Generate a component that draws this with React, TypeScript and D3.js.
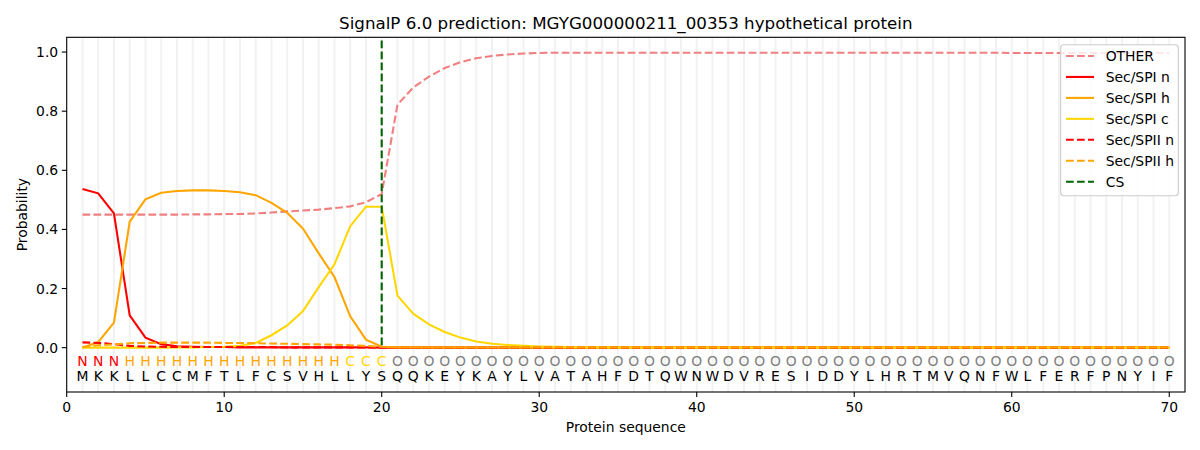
import { useEffect } from "react"
import * as d3 from "d3"

// sequence and per-residue region labels
const sequence = "MKKLLCCMFTLFCSVHLLYSQQKEYKAYLVATAHFDTQWNWDVRESIDDYLHRTMVQNFWLFERFPNYIF".split("")
const regions = ("NNN" + "H".repeat(14) + "CCC" + "O".repeat(50)).split("")

const pad = (vals: number[], fill: number) => vals.concat(new Array(70 - vals.length).fill(fill))

const other = pad(
  [
    0.45, 0.45, 0.45, 0.45, 0.45, 0.45, 0.45, 0.451, 0.451, 0.452,
    0.452, 0.454, 0.457, 0.461, 0.464, 0.467, 0.472, 0.478, 0.492, 0.52,
    0.822, 0.88, 0.917, 0.946, 0.966, 0.979, 0.987, 0.992, 0.995, 0.997,
    0.998, 0.998, 0.998, 0.998, 0.998, 0.998, 0.998, 0.998, 0.998, 0.998,
    0.998, 0.998, 0.998, 0.998, 0.998, 0.998, 0.998, 0.998, 0.998, 0.998,
    0.998, 0.998, 0.998, 0.998, 0.998, 0.998, 0.998, 0.998, 0.998, 0.997,
  ],
  0.997
)
const spiN = pad(
  [
    0.537, 0.522, 0.454, 0.109, 0.034, 0.012, 0.005, 0.003, 0.002, 0.002,
    0.001, 0.001, 0.001, 0.001, 0.001, 0.001, 0.001, 0.001, 0.001, 0.0,
  ],
  0
)
const spiH = pad(
  [
    0.0, 0.019, 0.085, 0.426, 0.502, 0.524, 0.53, 0.532, 0.532, 0.53,
    0.526, 0.516, 0.49, 0.456, 0.403, 0.319, 0.239, 0.106, 0.027, 0.003,
    0.001, 0.001,
  ],
  0
)
const spiC = pad(
  [
    0.0, 0.0, 0.0, 0.0, 0.0, 0.0, 0.001, 0.001, 0.002, 0.003,
    0.006, 0.016, 0.042, 0.075, 0.124, 0.205, 0.282, 0.411, 0.477, 0.477,
    0.176, 0.115, 0.079, 0.053, 0.034, 0.021, 0.013, 0.009, 0.006, 0.004,
    0.003, 0.002, 0.001, 0.001,
  ],
  0
)
const spiiN = pad(
  [
    0.018, 0.016, 0.012, 0.006, 0.004, 0.003, 0.002, 0.002, 0.002, 0.002,
    0.002, 0.002, 0.002, 0.001, 0.001, 0.001, 0.001, 0.001, 0.001, 0.001,
  ],
  0
)
const spiiH = pad(
  [
    0.002, 0.008, 0.011, 0.015, 0.016, 0.017, 0.017, 0.017, 0.017, 0.016,
    0.016, 0.015, 0.014, 0.013, 0.012, 0.011, 0.01, 0.008, 0.006, 0.003,
  ],
  0.001
)
const cleavageSite = 20

const xTicks = [0, 10, 20, 30, 40, 50, 60, 70]
const yTicks = [0, 0.2, 0.4, 0.6, 0.8, 1.0]

const series = [
  { name: "OTHER", values: other, color: "#f08080", dashed: true },
  { name: "Sec/SPI n", values: spiN, color: "#ff0000", dashed: false },
  { name: "Sec/SPI h", values: spiH, color: "#ffa500", dashed: false },
  { name: "Sec/SPI c", values: spiC, color: "#ffd700", dashed: false },
  { name: "Sec/SPII n", values: spiiN, color: "#ff0000", dashed: true },
  { name: "Sec/SPII h", values: spiiH, color: "#ffa500", dashed: true },
]

const regionColor: Record<string, string> = { N: "#ff0000", H: "#ffa500", C: "#ffd700", O: "#808080" }

export default function App() {
  useEffect(() => {
    document.body.style.margin = "0"
  }, [])

  const left = 66.7
  const right = 1185
  const top = 37.3
  const bottom = 392
  const font = "DejaVu Sans, sans-serif"
  const dash = "7.7,3.3"

  const x = d3.scaleLinear().domain([0, 71]).range([left, right])
  const y = d3.scaleLinear().domain([-0.15, 1.05]).range([bottom, top])

  const line = d3
    .line<number>()
    .x((_, i) => x(i + 1))
    .y((d) => y(d))

  const legendItems = [
    ...series.map((s) => ({ name: s.name, color: s.color, dashed: s.dashed })),
    { name: "CS", color: "#006400", dashed: true },
  ]

  return (
    <svg width={1200} height={450} style={{ display: "block", fontFamily: font }}>
      <rect width={1200} height={450} fill="#fff" />

      {/* residue grid */}
      {sequence.map((_, i) => (
        <line key={i} x1={x(i + 1)} x2={x(i + 1)} y1={top} y2={bottom} stroke="#f2f2f2" strokeWidth={2} />
      ))}

      {series.map((s) => (
        <path
          key={s.name}
          d={line(s.values) ?? ""}
          fill="none"
          stroke={s.color}
          strokeWidth={2.08}
          strokeDasharray={s.dashed ? dash : undefined}
        />
      ))}

      {/* cleavage site, drawn from the top so the dash phase matches */}
      <line
        x1={x(cleavageSite)}
        x2={x(cleavageSite)}
        y1={y(1.05)}
        y2={y(0)}
        stroke="#006400"
        strokeWidth={2.08}
        strokeDasharray={dash}
        strokeDashoffset={7.7}
      />

      {/* residue letters */}
      {regions.map((r, i) => (
        <text key={"r" + i} x={x(i + 1)} y={y(-0.046)} dy="0.36em" textAnchor="middle" fontSize={13.9} fill={regionColor[r]}>
          {r}
        </text>
      ))}
      {sequence.map((aa, i) => (
        <text key={"s" + i} x={x(i + 1)} y={y(-0.097)} dy="0.36em" textAnchor="middle" fontSize={13.9} fill="#000">
          {aa}
        </text>
      ))}

      {/* axes frame */}
      <rect x={left} y={top} width={right - left} height={bottom - top} fill="none" stroke="#000" strokeWidth={1.1} />

      {xTicks.map((t) => (
        <g key={"x" + t}>
          <line x1={x(t)} x2={x(t)} y1={bottom} y2={bottom + 4.9} stroke="#000" strokeWidth={1.1} />
          <text x={x(t)} y={bottom + 20} textAnchor="middle" fontSize={13.9}>
            {t}
          </text>
        </g>
      ))}
      {yTicks.map((t) => (
        <g key={"y" + t}>
          <line x1={left - 4.9} x2={left} y1={y(t)} y2={y(t)} stroke="#000" strokeWidth={1.1} />
          <text x={left - 8.5} y={y(t)} dy="0.36em" textAnchor="end" fontSize={13.9}>
            {t.toFixed(1)}
          </text>
        </g>
      ))}

      <text x={(left + right) / 2} y={432} textAnchor="middle" fontSize={13.9}>
        Protein sequence
      </text>
      <text transform={`translate(27,${(top + bottom) / 2}) rotate(-90)`} textAnchor="middle" fontSize={13.9}>
        Probability
      </text>
      <text x={(left + right) / 2} y={29} textAnchor="middle" fontSize={16.7}>
        SignalP 6.0 prediction: MGYG000000211_00353 hypothetical protein
      </text>

      {/* legend */}
      <rect x={1060.7} y={44.7} width={117.6} height={151} rx={3} fill="#fff" fillOpacity={0.8} stroke="#cccccc" strokeWidth={1.1} />
      {legendItems.map((it, i) => {
        const cy = 56 + i * 20.95
        return (
          <g key={it.name}>
            <line
              x1={1066}
              x2={1094}
              y1={cy}
              y2={cy}
              stroke={it.color}
              strokeWidth={2.08}
              strokeDasharray={it.dashed ? dash : undefined}
            />
            <text x={1105.7} y={cy} dy="0.36em" fontSize={13.9}>
              {it.name}
            </text>
          </g>
        )
      })}
    </svg>
  )
}
